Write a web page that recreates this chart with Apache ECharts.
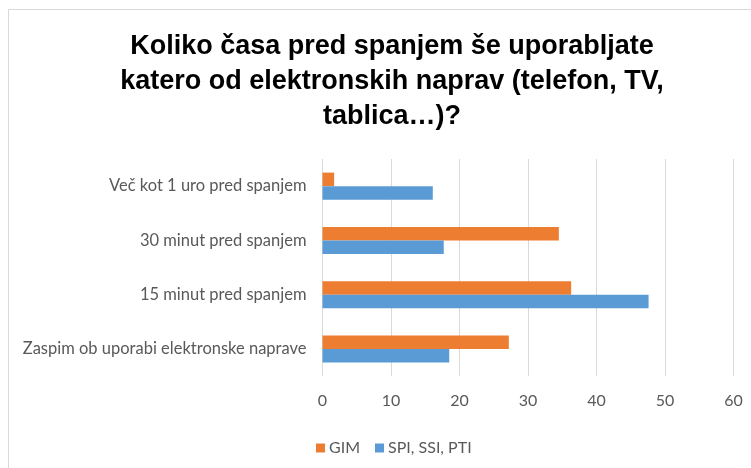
<!DOCTYPE html>
<html>
<head>
<meta charset="utf-8">
<script src="https://cdn.jsdelivr.net/npm/echarts@6/dist/echarts.min.js"></script>
<style>
html,body{margin:0;padding:0;background:#fff;}
#chart{width:751px;height:468px;}
</style>
</head>
<body>
<div id="chart"></div>
<script>
const titleText = 'Koliko časa pred spanjem še uporabljate\nkatero od elektronskih naprav (telefon, TV,\ntablica…)?';
const categories = ['Več kot 1 uro pred spanjem', '30 minut pred spanjem', '15 minut pred spanjem', 'Zaspim ob uporabi elektronske naprave'];
const seriesNames = ['GIM', 'SPI, SSI, PTI'];
const gimValues = [1.7, 34.5, 36.3, 27.2];
const spiValues = [16.1, 17.7, 47.6, 18.5];
const xTicks = [0, 10, 20, 30, 40, 50, 60];

const chart = echarts.init(document.getElementById('chart'), null, {renderer: 'canvas'});
const labelColor = '#595959';
const labelFont = 'Lato';
chart.setOption({
  animation: false,
  backgroundColor: '#fff',
  graphic: [{
    type: 'rect',
    shape: {x: 8.5, y: 9.5, width: 800, height: 500},
    style: {fill: 'none', stroke: '#d9d9d9', lineWidth: 1},
    silent: true, z: -1
  }],
  title: {
    text: titleText,
    left: 387,
    top: 24,
    textAlign: 'center',
    textStyle: {
      fontFamily: 'Liberation Sans',
      fontWeight: 'bold',
      fontSize: 27,
      lineHeight: 35,
      color: '#000'
    }
  },
  legend: {
    data: seriesNames,
    left: 311,
    top: 435,
    icon: 'rect',
    itemWidth: 9,
    itemHeight: 9,
    itemGap: 15,
    textStyle: {color: labelColor, fontFamily: labelFont, fontSize: 16, padding: [0, 0, 0, -1]}
  },
  grid: {left: 322.5, right: 17.5, top: 159, height: 217, containLabel: false},
  xAxis: {
    type: 'value',
    min: xTicks[0],
    max: xTicks[xTicks.length - 1],
    interval: 10,
    axisLine: {show: false},
    axisTick: {show: false},
    splitLine: {show: true, lineStyle: {color: '#d9d9d9', width: 1}},
    axisLabel: {color: labelColor, fontFamily: labelFont, fontSize: 16, margin: 17}
  },
  yAxis: {
    type: 'category',
    data: categories,
    inverse: true,
    axisLine: {show: false},
    axisTick: {show: false},
    axisLabel: {color: labelColor, fontFamily: labelFont, fontSize: 16.5, margin: 16}
  },
  series: [
    {
      name: seriesNames[0],
      type: 'bar',
      data: gimValues,
      barWidth: 13.5,
      barGap: '0%',
      itemStyle: {color: '#ed7d31'}
    },
    {
      name: seriesNames[1],
      type: 'bar',
      data: spiValues,
      barWidth: 13.5,
      barGap: '0%',
      itemStyle: {color: '#5b9bd5'}
    }
  ]
});
</script>
</body>
</html>
